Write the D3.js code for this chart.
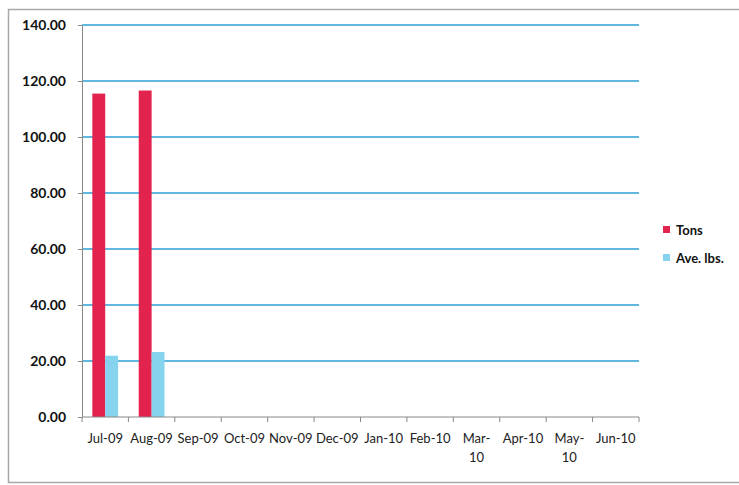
<!DOCTYPE html>
<html lang="en">
<head>
  <meta charset="UTF-8">
  <title>Tons and Ave. lbs.</title>
  <script src="https://d3js.org/d3.v7.min.js"></script>
  <style>
    body { margin: 0; background: #fff; font-family: Lato, "Open Sans", sans-serif; }
  </style>
</head>
<body>
  <div id="chart"></div>

  <script>
    // Data
    const months = ["Jul-09", "Aug-09", "Sep-09", "Oct-09", "Nov-09", "Dec-09",
                    "Jan-10", "Feb-10", "Mar-10", "Apr-10", "May-10", "Jun-10"];
    const wrapped = ["Mar-10", "May-10"];   // Excel broke these over two lines
    const tons = [115.5, 116.6, null, null, null, null, null, null, null, null, null, null];
    const aveLbs = [21.9, 23.2, null, null, null, null, null, null, null, null, null, null];
    const seriesNames = ["Tons", "Ave. lbs."];
    const colors = ["#e2234d", "#86d3ee"];
    const yTicks = [0, 20, 40, 60, 80, 100, 120, 140];

    const width = 739, height = 485;
    const margin = {top: 25, right: 100, bottom: 68, left: 82};

    const svg = d3.select("#chart").append("svg")
        .attr("width", width)
        .attr("height", height);

    // outer frame of the chart
    svg.append("rect")
        .attr("x", 8.5).attr("y", 9.5)
        .attr("width", 740).attr("height", 473)
        .attr("fill", "none")
        .attr("stroke", "#a8a8a8")
        .attr("stroke-width", 1.5);

    const x = d3.scaleBand()
        .domain(months)
        .range([margin.left, width - margin.right]);

    const sub = d3.scaleBand()
        .domain(seriesNames)
        .range([0, x.bandwidth()])
        .paddingOuter(0.8);

    const y = d3.scaleLinear()
        .domain([0, 140])
        .range([height - margin.bottom, margin.top]);

    // gridlines
    svg.append("g")
      .selectAll("line")
      .data(yTicks.filter(d => d > 0))
      .join("line")
        .attr("x1", margin.left)
        .attr("x2", width - margin.right)
        .attr("y1", d => y(d))
        .attr("y2", d => y(d))
        .attr("stroke", "#2b9fd6")
        .attr("stroke-width", 1.3);

    // y axis
    const yAxis = svg.append("g")
        .attr("transform", `translate(${margin.left},0)`)
        .call(d3.axisLeft(y).tickValues(yTicks).tickFormat(d3.format(".2f")).tickSize(4).tickSizeOuter(0));
    yAxis.select(".domain").attr("stroke", "#888");
    yAxis.selectAll(".tick line").attr("stroke", "#888");
    yAxis.selectAll("text")
        .attr("x", -16)
        .attr("fill", "#111")
        .attr("font-size", 14)
        .attr("font-weight", "bold")
        .attr("font-family", "Lato, sans-serif");

    // bars
    const series = [tons, aveLbs];
    series.forEach((vals, i) => {
      svg.append("g")
          .attr("fill", colors[i])
        .selectAll("rect")
        .data(months.map((m, j) => ({m, v: vals[j]})).filter(d => d.v != null))
        .join("rect")
          .attr("x", d => x(d.m) + sub(seriesNames[i]))
          .attr("width", sub.bandwidth())
          .attr("y", d => y(d.v))
          .attr("height", d => y(0) - y(d.v));
    });

    // x axis: line, ticks between categories, labels
    const xAxis = svg.append("g");
    xAxis.append("line")
        .attr("x1", margin.left).attr("x2", width - margin.right)
        .attr("y1", y(0)).attr("y2", y(0))
        .attr("stroke", "#888");
    xAxis.selectAll("line.tk")
      .data(months.concat(["end"]))
      .join("line")
        .attr("class", "tk")
        .attr("x1", (d, i) => margin.left + i * x.step())
        .attr("x2", (d, i) => margin.left + i * x.step())
        .attr("y1", y(0)).attr("y2", y(0) + 5)
        .attr("stroke", "#888");
    const labels = xAxis.selectAll("text")
      .data(months)
      .join("text")
        .attr("x", d => x(d) + x.bandwidth() / 2)
        .attr("y", y(0) + 26)
        .attr("text-anchor", "middle")
        .attr("font-size", 13)
        .attr("fill", "#222");
    labels.each(function(d) {
      const t = d3.select(this);
      const lines = wrapped.includes(d) ? [d.slice(0, 4), d.slice(4)] : [d];
      lines.forEach((s, k) => {
        t.append("tspan")
            .attr("x", x(d) + x.bandwidth() / 2)
            .attr("dy", k === 0 ? 0 : 19)
            .text(s);
      });
    });

    // legend
    const legend = svg.append("g")
        .attr("transform", "translate(663,230)");
    seriesNames.forEach((name, i) => {
      const g = legend.append("g").attr("transform", `translate(0,${i * 28})`);
      g.append("rect")
          .attr("x", 0).attr("y", -4)
          .attr("width", 7).attr("height", 7)
          .attr("fill", colors[i]);
      g.append("text")
          .attr("x", 13).attr("y", 5)
          .attr("font-size", 13)
          .attr("font-weight", "bold")
          .attr("fill", "#111")
          .text(name);
    });
  </script>
</body>
</html>
